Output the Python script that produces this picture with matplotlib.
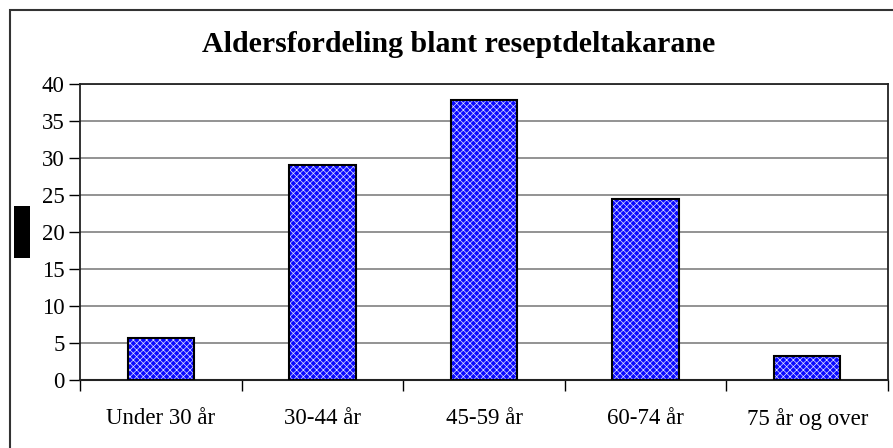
import matplotlib
matplotlib.use("Agg")
import matplotlib.pyplot as plt
from matplotlib.patches import Rectangle

categories = ["Under 30 år", "30-44 år", "45-59 år", "60-74 år", "75 år og over"]
values = [5.7, 29.0, 37.8, 24.4, 3.2]
yticks = [0, 5, 10, 15, 20, 25, 30, 35, 40]
title = "Aldersfordeling blant reseptdeltakarane"

W, H = 893, 448
plt.rcParams["font.family"] = ["Liberation Serif", "DejaVu Serif"]
plt.rcParams["hatch.color"] = "#dcdcff"
plt.rcParams["hatch.linewidth"] = 0.5

fig = plt.figure(figsize=(W / 100, H / 100), dpi=100)
ax = fig.add_axes([80 / W, 1 - 380 / H, (888 - 80) / W, (380 - 84) / H])

x = list(range(len(categories)))
# fill with hatch (hatch colour comes from rcParams while edgecolor is unset)
ax.bar(x, values, width=0.41, color="#0a0aff", hatch="xxxxx", linewidth=0, zorder=3)
ax.bar(x, values, width=0.41, fill=False, edgecolor="black", linewidth=1.5, zorder=4)

ax.set_xlim(-0.5, len(categories) - 0.5)
ax.set_ylim(0, 40)
ax.set_yticks(yticks)
ax.set_xticks(x)
ax.set_xticklabels(categories)
ax.set_xticks([i + 0.5 for i in range(-1, len(categories))], minor=True)
ax.tick_params(axis="x", which="major", length=0, pad=20, labelsize=16.5)
ax.tick_params(axis="x", which="minor", length=8, width=1, direction="out")
ax.tick_params(axis="y", length=8, width=1, labelsize=16.5, pad=3)
ax.yaxis.grid(True, color="#808080", linewidth=1.2, zorder=0)
ax.set_axisbelow(True)
for s in ax.spines.values():
    s.set_color("#222222")
    s.set_linewidth(1.3)
ax.spines["bottom"].set_linewidth(1.5)

fig.text(459 / W, 1 - 45 / H, title, ha="center", va="center",
         fontsize=21.5, fontweight="bold")

# outer chart frame (only top and left edges fall inside the picture)
fig.patches.append(Rectangle((10 / W, -0.1), 1.2, 1 - 10 / H + 0.1,
                             transform=fig.transFigure, fill=False,
                             edgecolor="#333333", linewidth=1.5))
# black box where the y-axis title sits
fig.patches.append(Rectangle((14 / W, 1 - 258 / H), 16 / W, 52 / H,
                             transform=fig.transFigure, facecolor="black",
                             edgecolor="none"))

fig.savefig("out.png", dpi=100)
